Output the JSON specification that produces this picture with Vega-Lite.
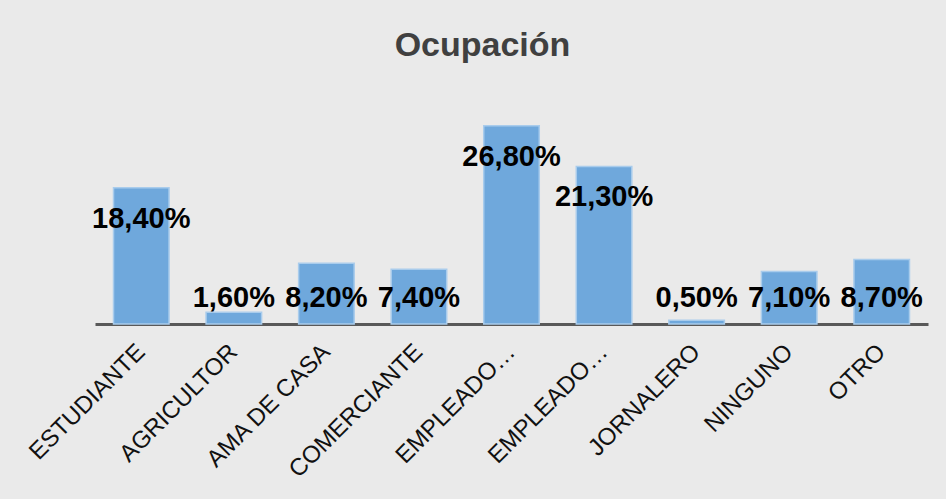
{
  "$schema": "https://vega.github.io/schema/vega-lite/v6.json",
  "width": 833,
  "height": 222,
  "autosize": {"type": "none"},
  "padding": {"left": 95, "top": 102, "right": 18, "bottom": 175},
  "background": "#EAEAEA",
  "title": {
    "text": "Ocupación",
    "font": "Liberation Sans",
    "fontSize": 34,
    "fontWeight": "bold",
    "color": "#404040",
    "anchor": "middle",
    "dx": -29,
    "offset": 12,
    "baseline": "alphabetic"
  },
  "config": {
    "view": {"stroke": null},
    "locale": {"number": {"decimal": ",", "thousands": ".", "grouping": [3], "currency": ["", " €"]}}
  },
  "data": {
    "values": [
      {"ocupacion": "ESTUDIANTE", "pct": 0.184},
      {"ocupacion": "AGRICULTOR", "pct": 0.016},
      {"ocupacion": "AMA DE CASA", "pct": 0.082},
      {"ocupacion": "COMERCIANTE", "pct": 0.074},
      {"ocupacion": "EMPLEADO PÚBLICO", "pct": 0.268},
      {"ocupacion": "EMPLEADO PRIVADO", "pct": 0.213},
      {"ocupacion": "JORNALERO", "pct": 0.005},
      {"ocupacion": "NINGUNO", "pct": 0.071},
      {"ocupacion": "OTRO", "pct": 0.087}
    ]
  },
  "encoding": {
    "x": {
      "field": "ocupacion",
      "type": "nominal",
      "sort": null,
      "scale": {"paddingInner": 0.4, "paddingOuter": 0.2},
      "axis": {
        "title": null,
        "ticks": false,
        "domainColor": "#595959",
        "domainWidth": 3,
        "labelAngle": -45,
        "labelAlign": "right",
        "labelBaseline": "middle",
        "labelPadding": 24,
        "labelFont": "Liberation Sans",
        "labelFontSize": 24,
        "labelColor": "#111111",
        "labelLimit": 400,
        "labelExpr": "indexof(datum.label, 'EMPLEADO') == 0 ? 'EMPLEADO…' : datum.label"
      }
    }
  },
  "layer": [
    {
      "mark": {"type": "bar", "color": "#6FA8DC", "stroke": "#A9CCEC", "strokeWidth": 1.5},
      "encoding": {
        "y": {"field": "pct", "type": "quantitative", "scale": {"domain": [0, 0.3]}, "axis": null}
      }
    },
    {
      "transform": [{"filter": "datum.pct >= 0.15"}],
      "mark": {"type": "text", "dy": 31, "baseline": "middle", "align": "center", "font": "Liberation Sans", "fontSize": 29, "fontWeight": "bold", "color": "#000000"},
      "encoding": {
        "y": {"field": "pct", "type": "quantitative"},
        "text": {"field": "pct", "type": "quantitative", "format": ".2%"}
      }
    },
    {
      "transform": [{"filter": "datum.pct < 0.15"}],
      "mark": {"type": "text", "dy": -26, "baseline": "middle", "align": "center", "font": "Liberation Sans", "fontSize": 29, "fontWeight": "bold", "color": "#000000"},
      "encoding": {
        "y": {"datum": 0, "type": "quantitative"},
        "text": {"field": "pct", "type": "quantitative", "format": ".2%"}
      }
    }
  ]
}
